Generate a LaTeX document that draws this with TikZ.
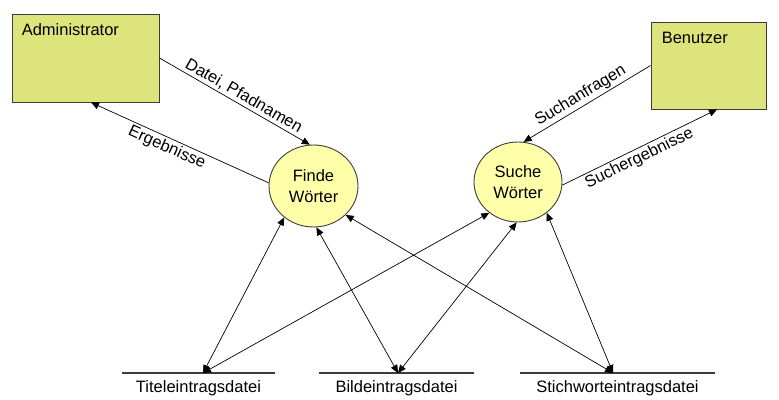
\documentclass[tikz,border=0pt]{standalone}
\usepackage{fontspec}
\setmainfont{Liberation Sans}
\usetikzlibrary{arrows.meta,shapes.geometric}
\definecolor{boxfill}{RGB}{222,228,124}
\definecolor{bubblefill}{RGB}{255,255,170}
\definecolor{edgegray}{RGB}{60,60,60}
\begin{document}
\begin{tikzpicture}[x=1pt,y=-1pt,
  every node/.style={font=\fontsize{16.5}{21}\selectfont},
  terminator/.style={draw=edgegray, fill=boxfill, line width=0.9pt, inner sep=0pt},
  process/.style={ellipse, draw=edgegray, fill=bubblefill, line width=0.9pt, inner sep=0pt, align=center},
  flow/.style={draw=black, line width=0.7pt, -{Triangle[length=8pt,width=7pt]}},
  dualflow/.style={draw=black, line width=0.7pt, {Triangle[length=8pt,width=7pt]}-{Triangle[length=8pt,width=7pt]}},
  storeline/.style={draw=edgegray, line width=1.1pt},
  flowlabel/.style={sloped, inner sep=2pt}
]
\useasboundingbox (0,0) rectangle (779,399);

% external entities
\node[terminator, minimum width=147pt, minimum height=88pt] (admin) at (85.5,58) {};
\node[anchor=north west, inner sep=0pt] (admintext) at ([shift={(10,10)}]admin.north west) {Administrator};
\node[terminator, minimum width=115pt, minimum height=87pt] (benutzer) at (708.5,65.5) {};
\node[anchor=north west, inner sep=0pt] (benutzertext) at ([shift={(11,10)}]benutzer.north west) {Benutzer};

% processes
\node[process, minimum width=89pt, minimum height=82pt] (finde) at (313.5,186) {Finde\\Wörter};
\node[process, minimum width=88pt, minimum height=80pt] (suche) at (518,182) {Suche\\Wörter};

% data stores
\draw[storeline] (122,373) -- (275,373);
\draw[storeline] (319,373) -- (474,373);
\draw[storeline] (520,373) -- (715,373);
\node (titel) at (198.5,388) {Titeleintragsdatei};
\node (bild) at (396.5,388) {Bildeintragsdatei};
\node (stich) at (617.5,388) {Stichworteintragsdatei};
\coordinate (titelin) at (203,373);
\coordinate (bildin) at (398,373);
\coordinate (stichin) at (613,373);

% data flows between entities and processes
\draw[flow] (admin.east) -- node[flowlabel, above, pos=.53] {Datei, Pfadnamen} (finde.95);
\draw[flow] (finde.176) -- node[flowlabel, below, pos=.55] {Ergebnisse} ([xshift=5.5pt]admin.south);
\draw[flow] (benutzer.west) -- node[flowlabel, above, pos=.51] {Suchanfragen} (suche.82);
\draw[flow] (suche.356) -- node[flowlabel, below, pos=.47] {Suchergebnisse} ([xshift=8.5pt]benutzer.south);

% data flows between processes and stores
\draw[dualflow] (titelin) -- (finde.227);
\draw[dualflow] (titelin) -- (suche.227);
\draw[dualflow] (bildin) -- (finde.274);
\draw[dualflow] (bildin) -- (suche.268);
\draw[dualflow] (stichin) -- (finde.318);
\draw[dualflow] (stichin) -- (suche.313);
\end{tikzpicture}
\end{document}
